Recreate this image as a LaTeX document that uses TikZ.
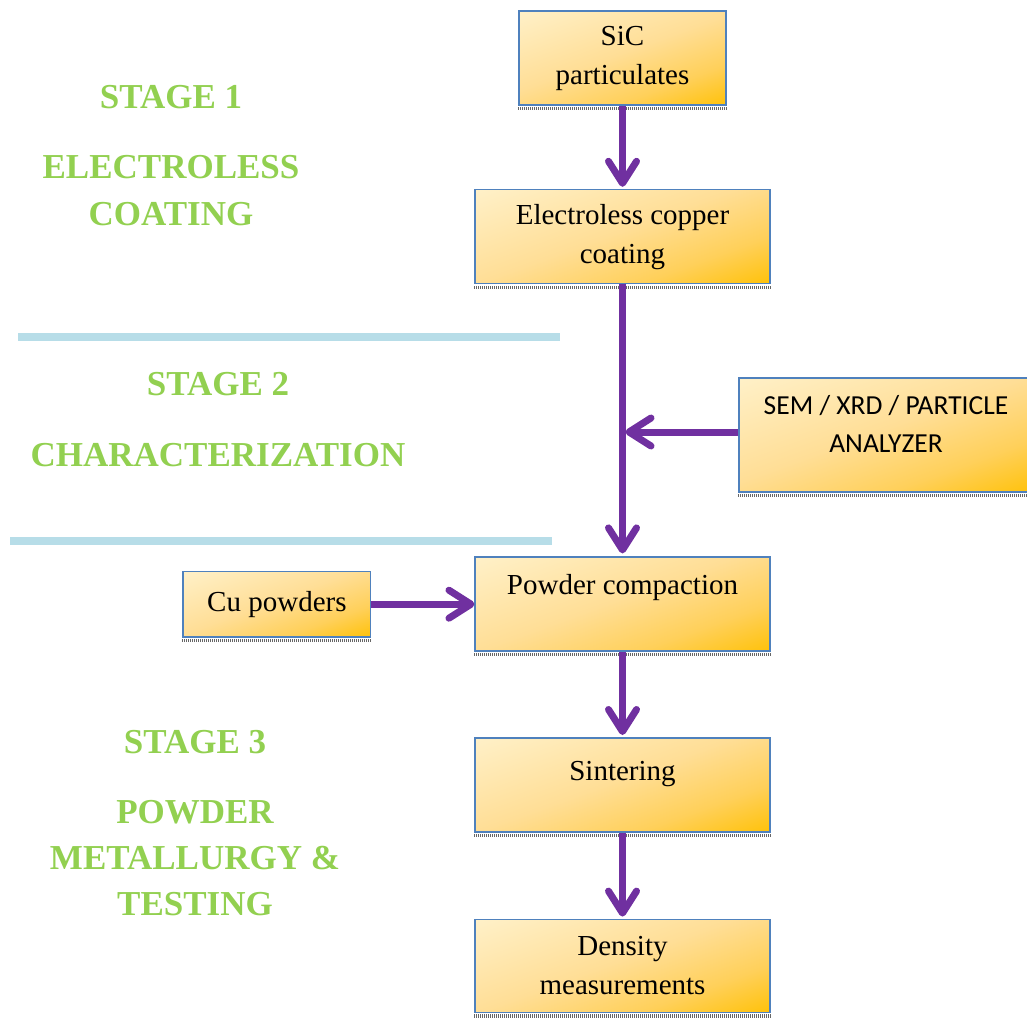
\documentclass[tikz,border=0pt]{standalone}
\usepackage{fontspec}
\setmainfont{Liberation Serif}
\newfontfamily\labfont{Carlito}
\usetikzlibrary{arrows.meta, positioning}

\definecolor{boxlight}{RGB}{255,244,210}
\definecolor{boxmid}{RGB}{255,222,150}
\definecolor{boxdeep}{RGB}{255,208,90}
\definecolor{boxdark}{RGB}{255,192,0}
\definecolor{boxline}{RGB}{79,129,189}
\definecolor{flowpurple}{RGB}{112,48,160}
\definecolor{stagegreen}{RGB}{146,208,80}
\definecolor{rulecyan}{RGB}{183,221,232}

% corner-to-corner fill of the process boxes
\pgfdeclareverticalshading{boxfill}{100bp}{color(0bp)=(boxdark); color(16bp)=(boxdark);
  color(33bp)=(boxdeep); color(52bp)=(boxmid); color(88bp)=(boxlight); color(100bp)=(boxlight)}

\begin{document}
\begin{tikzpicture}[x=1pt, y=1pt, >={Straight Barb[round, length=22pt, width=28pt]}]
  \tikzset{
    box/.style={
      draw=boxline, line width=1.6pt,
      shade, shading=boxfill, shading angle=20,
      minimum width=294.5pt, minimum height=94pt,
      align=center, inner sep=0pt,
      font=\fontsize{29}{39}\selectfont,
      append after command={\pgfextra{\draw[boxshadow]
        ([yshift=-2.8pt]\tikzlastnode.south west) --
        ([yshift=-2.8pt]\tikzlastnode.south east);}}},
    boxshadow/.style={draw=black!60, line width=3.2pt, dash pattern=on 1pt off 1pt},
    lift/.style={text height=21pt, text depth=#1},
    stage/.style={text=stagegreen, anchor=base,
      font=\fontsize{35}{46}\selectfont\bfseries},
    flow/.style={->, flowpurple, line width=7pt},
    divider/.style={draw=rulecyan, line width=8pt}}

  \useasboundingbox (0,0) rectangle (1027,-1017);

  % main process column
  \node[box, minimum width=207.5pt] (sic) at (622.5,-58) {SiC\\particulates};
  \node[box] (ec) [below=83pt of sic] {Electroless copper\\coating};
  \node[box, lift=40pt] (pc) [below=272pt of ec] {Powder compaction};
  \node[box, lift=29pt] (sint) [below=85pt of pc] {Sintering};
  \node[box, minimum height=93pt] (dens) [below=86pt of sint] {Density\\measurements};

  % side inputs
  \node[box, minimum width=187.5pt, minimum height=65.5pt] (cu) [left=103pt of pc] {Cu powders};
  \node[box, minimum height=114.5pt, font=\labfont\fontsize{27.5}{38}\selectfont]
    (sem) at (886,-435) {SEM / XRD / PARTICLE\\ANALYZER\\[-16pt]\mbox{}};

  % stage headings
  \node[stage] (st1) at (171,-108) {STAGE 1};
  \node[stage] (el) at (171,-178) {ELECTROLESS};
  \node[stage] (co) at (171,-225) {COATING};
  \node[stage] (st2) at (218,-395) {STAGE 2};
  \node[stage] (ch) at (218,-466) {CHARACTERIZATION};
  \node[stage] (st3) at (195,-753) {STAGE 3};
  \node[stage] (pw) at (195,-823) {POWDER};
  \node[stage] (me) at (195,-869) {METALLURGY \&};
  \node[stage] (te) at (195,-915) {TESTING};

  % stage dividers
  \draw[divider] (18,-337) -- (560,-337);
  \draw[divider] (10,-541) -- (552,-541);

  % flow arrows
  \coordinate (join) at (ec.south |- 0,-432);
  \path[flow] (sic) edge[shorten >=2pt] (ec);
  \path[flow] (ec) edge[shorten >=3pt] (pc);
  \path[flow] (sem.west |- join) edge[shorten >=3pt] (join);
  \path[flow] (cu) edge (pc);
  \path[flow] (pc) edge[shorten >=2pt] (sint);
  \path[flow] (sint) edge[shorten >=2pt] (dens);

\end{tikzpicture}
\end{document}
